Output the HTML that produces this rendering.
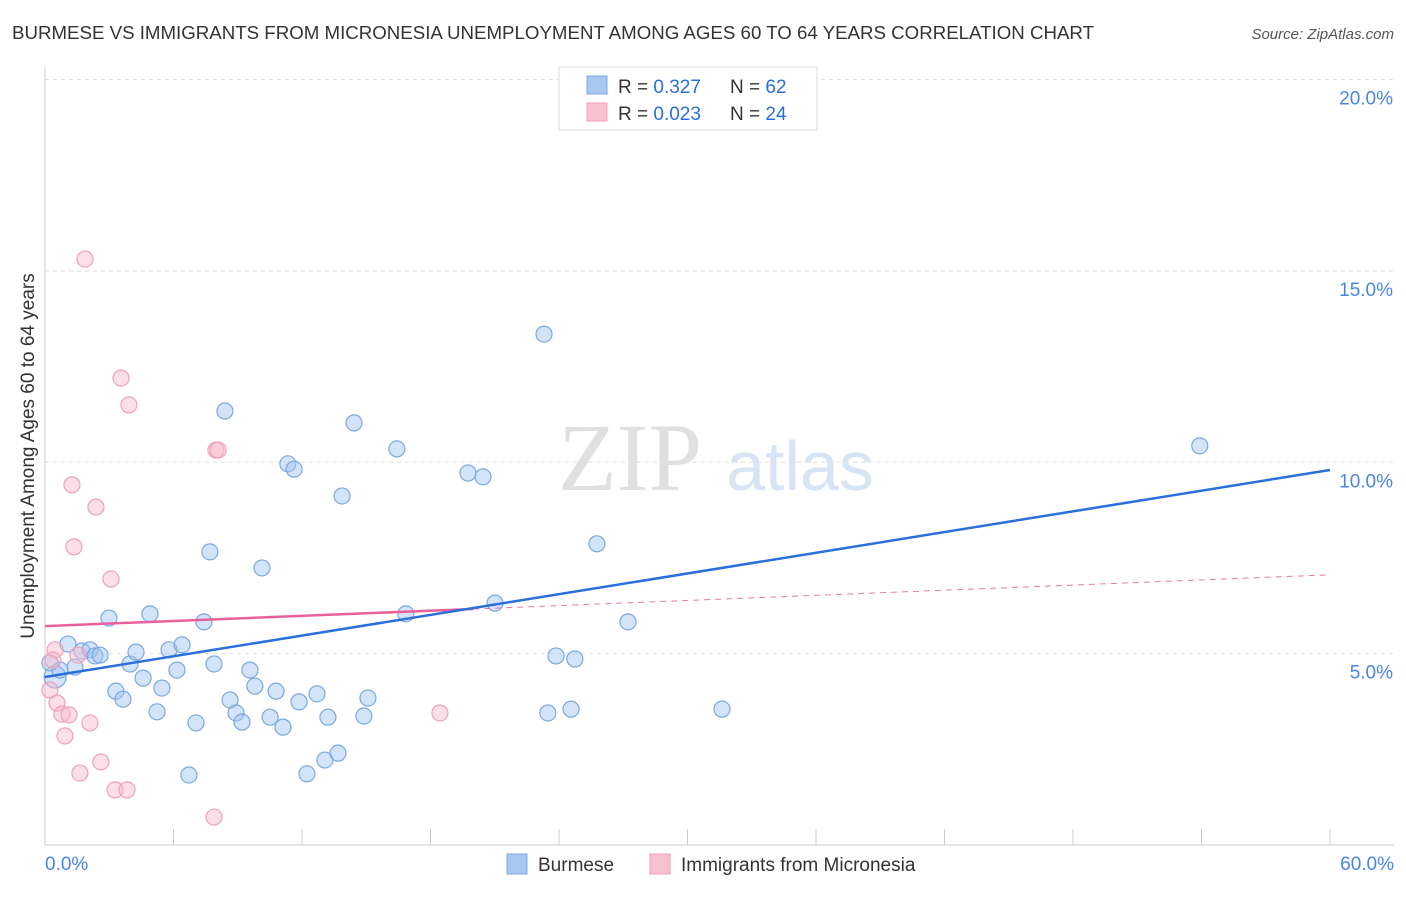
<!DOCTYPE html>
<html><head><meta charset="utf-8"><style>
body{margin:0;background:#fff;font-family:"Liberation Sans",sans-serif;}
</style></head><body>
<svg width="1406" height="892" xmlns="http://www.w3.org/2000/svg" style="font-family:'Liberation Sans',sans-serif">
<text x="12" y="39" font-size="18" fill="#333" textLength="1082" lengthAdjust="spacingAndGlyphs">BURMESE VS IMMIGRANTS FROM MICRONESIA UNEMPLOYMENT AMONG AGES 60 TO 64 YEARS CORRELATION CHART</text>
<text x="1394" y="39" font-size="15" fill="#555" font-style="italic" text-anchor="end">Source: ZipAtlas.com</text>
<g id="grid"></g>
<text x="630" y="490" font-size="96" fill="#e0e0e0" font-family="Liberation Serif" text-anchor="middle">ZIP</text>
<text x="800" y="490" font-size="70" fill="#d6e4f5" text-anchor="middle">atlas</text>
<text transform="translate(34,456) rotate(-90)" font-size="19" fill="#333" text-anchor="middle">Unemployment Among Ages 60 to 64 years</text>
<g id="marks"></g>
<g>
<rect x="559" y="67" width="258" height="63" fill="#fff" stroke="#ddd"/>
<rect x="587" y="76" width="20" height="18" fill="#a8c8f0" stroke="#7aa8e0"/>
<rect x="587" y="103" width="20" height="18" fill="#f8c0d0" stroke="#f0a0b8"/>
<text x="618" y="93" font-size="19" fill="#333">R = <tspan fill="#2a6fdb">0.327</tspan></text>
<text x="730" y="93" font-size="19" fill="#333">N = <tspan fill="#2a6fdb">62</tspan></text>
<text x="618" y="120" font-size="19" fill="#333">R = <tspan fill="#2a6fdb">0.023</tspan></text>
<text x="730" y="120" font-size="19" fill="#333">N = <tspan fill="#2a6fdb">24</tspan></text>
</g>
<g>
<rect x="507" y="854" width="20" height="20" fill="#a8c8f0" stroke="#7aa8e0"/>
<text x="538" y="871" font-size="19" fill="#333">Burmese</text>
<rect x="650" y="854" width="20" height="20" fill="#f8c0d0" stroke="#f0a0b8"/>
<text x="681" y="871" font-size="19" fill="#333">Immigrants from Micronesia</text>
</g>
</svg>
<script>
const xTicks=[0,6,12,18,24,30,36,42,48,54,60];
const yTicks=[5,10,15,20];
const blueX=[0.47,1.07,0.70,1.40,1.73,2.10,2.33,2.57,2.99,3.31,3.64,3.97,4.25,4.58,4.90,5.23,5.46,5.79,6.16,6.40,6.72,7.05,7.42,7.70,7.89,8.40,8.64,8.92,9.20,9.57,9.80,10.13,10.51,10.79,11.11,11.34,11.63,11.86,12.23,12.70,13.07,13.21,13.68,13.87,14.43,14.89,15.08,16.43,16.85,19.75,20.45,21.01,23.30,23.48,23.86,24.56,24.74,25.77,27.22,31.61,53.92,0.23];
const blueY=[4.39,5.25,4.57,4.65,5.07,5.10,4.94,4.96,5.93,4.02,3.81,4.73,5.04,4.36,6.04,3.48,4.10,5.10,4.57,5.23,1.83,3.19,5.83,7.66,4.73,11.34,3.79,3.45,3.21,4.57,4.15,7.24,3.34,4.02,3.08,9.96,9.82,3.74,1.86,3.95,2.22,3.34,2.40,9.12,11.03,3.37,3.84,10.35,6.04,9.72,9.62,6.32,13.35,3.45,4.94,3.55,4.86,7.87,5.83,3.55,10.43,4.76];
const pinkX=[1.87,3.55,3.92,1.26,2.38,1.35,3.08,7.98,8.08,0.47,0.37,0.56,0.79,1.12,0.93,2.10,1.63,2.61,3.27,3.83,7.89,18.44,0.23,1.54];
const pinkY=[15.31,12.20,11.50,9.41,8.83,7.79,6.95,10.32,10.32,5.10,4.83,3.71,3.42,3.40,2.85,3.19,1.88,2.17,1.44,1.44,0.73,3.45,4.05,4.96];
const blueTrend=[4.39,9.80];
const pinkTrend=[5.72,7.06];
const NS="http://www.w3.org/2000/svg";
const X=v=>45+v/60*1285;
const Y=v=>845-v*38.27;
function mk(tag,attrs,parent){const e=document.createElementNS(NS,tag);for(const k in attrs)e.setAttribute(k,attrs[k]);parent.appendChild(e);return e;}
const grid=document.getElementById('grid'),marks=document.getElementById('marks');
yTicks.forEach(t=>{
 const l=mk('line',{x1:45,x2:1394,y1:Y(t),y2:Y(t),stroke:'#ddd','stroke-dasharray':'4,4'},grid);
 
 
 const tx=mk('text',{x:1393,y:Y(t)+25,'font-size':19,fill:'#4a86e0','text-anchor':'end'},grid);
 tx.textContent=t.toFixed(1)+'%';
 
 
});
mk('line',{x1:45,x2:45,y1:67,y2:845,stroke:'#ccc'},grid);
mk('line',{x1:45,x2:1394,y1:845,y2:845,stroke:'#ccc'},grid);
xTicks.forEach(t=>{
 const l=mk('line',{x1:X(t),x2:X(t),y1:829,y2:845,stroke:'#ccc'},grid);
 
 
});
[[0,45,'start'],[60,1394,'end']].forEach(([v,x,a])=>{
 const tx=mk('text',{x:x,y:870,'font-size':19,fill:'#4a86e0','text-anchor':a},grid);
 tx.textContent=v.toFixed(1)+'%';
 
 
});
blueX.forEach((v,i)=>{
 const c=mk('circle',{cx:X(v),cy:Y(blueY[i]),r:i==0?11:8,fill:'rgba(160,196,240,0.45)',stroke:'#7aa8e0','stroke-width':1.2},marks);
 
 
});
pinkX.forEach((v,i)=>{
 const c=mk('circle',{cx:X(v),cy:Y(pinkY[i]),r:8,fill:'rgba(248,185,205,0.45)',stroke:'#f0a0b8','stroke-width':1.2},marks);
 
 
});
const pAt=x=>pinkTrend[0]+(pinkTrend[1]-pinkTrend[0])*x/60;
let l=mk('line',{x1:X(20),y1:Y(pAt(20)),x2:X(60),y2:Y(pAt(60)),stroke:'#e87aa0','stroke-width':1,'stroke-dasharray':'6,5'},marks);


l=mk('line',{x1:X(0),y1:Y(pAt(0)),x2:X(20),y2:Y(pAt(20)),stroke:'#e8609a','stroke-width':2.5},marks);


l=mk('line',{x1:X(0),y1:Y(blueTrend[0]),x2:X(60),y2:Y(blueTrend[1]),stroke:'#2a6fdb','stroke-width':2.5},marks);


</script>
</body></html>
